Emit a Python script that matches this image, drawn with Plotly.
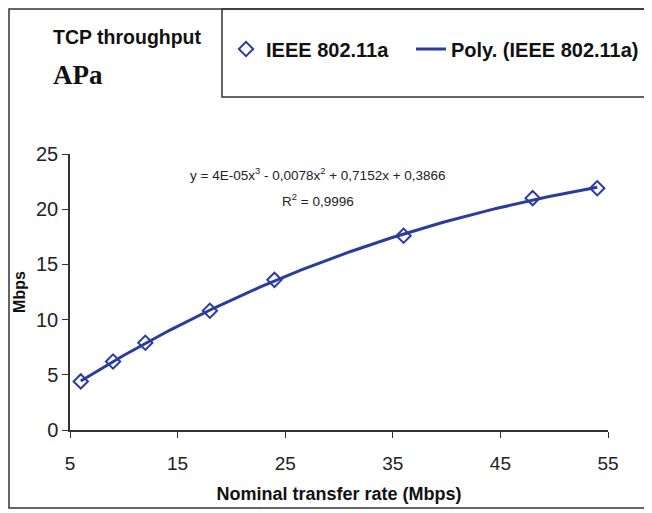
import numpy as np
import plotly.graph_objects as go

# ---- data ----
rates = [6, 9, 12, 18, 24, 36, 48, 54]
throughput = [4.4, 6.2, 7.9, 10.8, 13.6, 17.6, 21.0, 21.9]
x_ticks = [5, 15, 25, 35, 45, 55]
y_ticks = [0, 5, 10, 15, 20, 25]
series_name = "IEEE 802.11a"
trend_name = "Poly. (IEEE 802.11a)"
equation_text = "y = 4E-05x<sup>3</sup> - 0,0078x<sup>2</sup> + 0,7152x + 0,3866"
r2_text = "R<sup>2</sup> = 0,9996"

# polynomial (order 3) trendline fitted to the data, like the spreadsheet does
coef = np.polyfit(rates, throughput, 3)
xf = np.linspace(min(rates), max(rates), 200)
yf = np.polyval(coef, xf)

BLUE = "#2B3D9C"
SANS = "Liberation Sans, Arial, sans-serif"
SERIF = "Liberation Serif, Times New Roman, serif"

# plot area in screen pixels (page body has an 8px offset)
OFF = 8
W, H = 652, 513
L, R, T, B = 70, 608, 154, 430
def px(x):
    return (x - L) / (R - L)
def py(y):
    return (B - y) / (B - T)

fig = go.Figure()
fig.add_trace(go.Scatter(
    x=rates, y=throughput, mode="markers", name=series_name, legend="legend",
    marker=dict(symbol="diamond-open", size=11, color=BLUE, line=dict(width=2, color=BLUE)),
))
fig.add_trace(go.Scatter(
    x=xf, y=yf, mode="lines", name=trend_name, legend="legend2",
    line=dict(color=BLUE, width=3),
))

legend_font = dict(family=SANS, size=20, color="#111111", weight="bold")
fig.update_layout(
    width=W, height=H,
    margin=dict(l=L - OFF, r=W - (R - OFF), t=T - OFF, b=H - (B - OFF), autoexpand=False),
    paper_bgcolor="white", plot_bgcolor="white",
    font=dict(family=SANS, color="#222222"),
    showlegend=True,
    legend=dict(
        orientation="h", x=px(226), y=py(49), xanchor="left", yanchor="middle",
        font=legend_font, bgcolor="rgba(0,0,0,0)", itemwidth=30,
    ),
    legend2=dict(
        orientation="h", x=px(411), y=py(49), xanchor="left", yanchor="middle",
        font=legend_font, bgcolor="rgba(0,0,0,0)", itemwidth=30,
    ),
    xaxis=dict(
        range=[5, 55], tickvals=x_ticks, ticks="outside", ticklen=6, tickcolor="#333",
        showline=True, linecolor="#333", linewidth=1.5, showgrid=False, zeroline=False,
        tickfont=dict(family=SANS, size=19, color="#222"), ticklabelstandoff=9,
        automargin=False,
        title=dict(text="Nominal transfer rate (Mbps)", standoff=15,
                   font=dict(family=SANS, size=18, color="#111", weight="bold")),
    ),
    yaxis=dict(
        range=[0, 25], tickvals=y_ticks, ticks="outside", ticklen=6, tickcolor="#333",
        showline=True, linecolor="#333", linewidth=1.5, showgrid=False, zeroline=False,
        tickfont=dict(family=SANS, size=20, color="#222"),
        automargin=False,
        title=dict(text="Mbps", standoff=6,
                   font=dict(family=SANS, size=16, color="#111", weight="bold")),
    ),
    shapes=[
        dict(type="rect", xref="paper", yref="paper", x0=px(9), x1=px(647), y0=py(508), y1=py(9),
             line=dict(color="#333", width=1.5), layer="below"),
        dict(type="rect", xref="paper", yref="paper", x0=px(222), x1=px(647), y0=py(97), y1=py(9),
             line=dict(color="#333", width=1.5), layer="below"),
    ],
    annotations=[
        dict(text="TCP throughput", xref="paper", yref="paper", x=px(51), y=py(37),
             xanchor="left", yanchor="middle", showarrow=False,
             font=dict(family=SANS, size=19.5, color="#111", weight="bold")),
        dict(text="APa", xref="paper", yref="paper", x=px(51), y=py(75),
             xanchor="left", yanchor="middle", showarrow=False,
             font=dict(family=SERIF, size=27, color="#111", weight="bold")),
        dict(text=equation_text, xref="paper", yref="paper", x=px(318), y=py(174),
             xanchor="center", yanchor="middle", showarrow=False,
             font=dict(family=SANS, size=13.5, color="#222")),
        dict(text=r2_text, xref="paper", yref="paper", x=px(318), y=py(200),
             xanchor="center", yanchor="middle", showarrow=False,
             font=dict(family=SANS, size=13.5, color="#222")),
    ],
)

fig.write_html("out.html")
